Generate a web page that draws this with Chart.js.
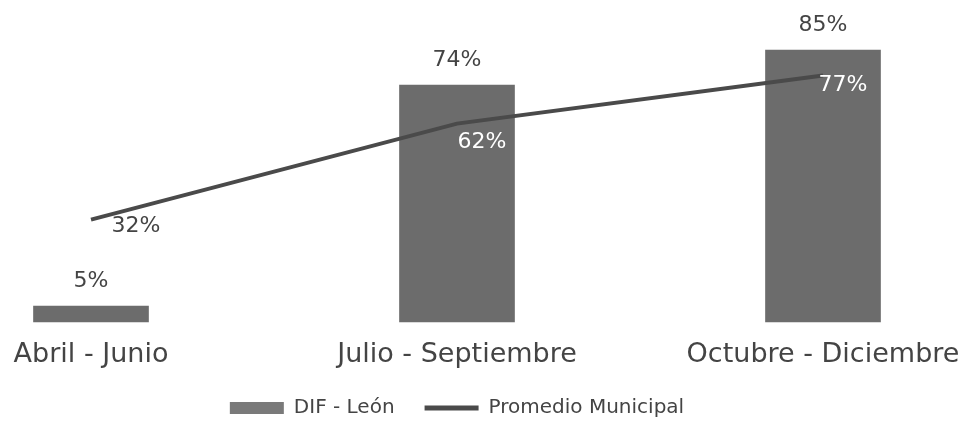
<!DOCTYPE html>
<html>
<head>
<meta charset="utf-8">
<script src="https://cdn.jsdelivr.net/npm/chart.js@4"></script>
<style>
html,body{margin:0;padding:0;background:#fff;}
#wrap{width:966px;height:426px;position:relative;}
</style>
</head>
<body>
<div id="wrap"><canvas id="c" width="966" height="426"></canvas></div>
<script>
const categories = ["Abril - Junio", "Julio - Septiembre", "Octubre - Diciembre"];
const difLeon = [5, 74, 85];
const promedioMunicipal = [32, 62, 77];
const seriesNames = ["DIF - León", "Promedio Municipal"];

const FONT = "'DejaVu Sans', sans-serif";
const TEXT = "#444444";

const labelPlugin = {
  id: 'valueLabels',
  afterDatasetsDraw(chart) {
    const ctx = chart.ctx;
    ctx.save();
    ctx.font = "22px " + FONT;
    ctx.textBaseline = 'middle';
    ctx.textAlign = 'center';
    const barMeta = chart.getDatasetMeta(0);
    barMeta.data.forEach((el, i) => {
      ctx.fillStyle = TEXT;
      ctx.fillText(difLeon[i] + '%', el.x, el.y - 25);
    });
    const lineMeta = chart.getDatasetMeta(1);
    const colors = [TEXT, '#ffffff', '#ffffff'];
    const dx = [45, 25, 20];
    const dy = [7, 19, 10];
    lineMeta.data.forEach((el, i) => {
      ctx.fillStyle = colors[i];
      ctx.fillText(promedioMunicipal[i] + '%', el.x + dx[i], el.y + dy[i]);
    });
    ctx.restore();
  }
};

new Chart(document.getElementById('c'), {
  type: 'bar',
  data: {
    labels: categories,
    datasets: [
      {
        type: 'bar',
        label: seriesNames[0],
        data: difLeon,
        backgroundColor: '#6c6c6c',
        barThickness: 115,
        clip: false,
        order: 2
      },
      {
        type: 'line',
        label: seriesNames[1],
        data: promedioMunicipal,
        borderColor: '#4a4a4a',
        backgroundColor: '#4a4a4a',
        borderWidth: 4,
        pointRadius: 0,
        tension: 0,
        clip: false,
        order: 1
      }
    ]
  },
  options: {
    responsive: false,
    animation: false,
    layout: { padding: { left: 91, right: 143, top: 2, bottom: -2 } },
    scales: {
      x: {
        offset: false,
        grid: { display: false, drawTicks: false },
        border: { display: false },
        ticks: { color: TEXT, font: { family: FONT, size: 27 }, padding: 17, maxRotation: 0, autoSkip: false },
        afterFit(scale) { scale.height = 46; scale.paddingLeft = 0; scale.paddingRight = 0; }
      },
      y: {
        display: false,
        min: 0,
        max: 100
      }
    },
    plugins: {
      tooltip: { enabled: false },
      legend: {
        position: 'bottom',
        labels: {
          color: TEXT,
          font: { family: FONT, size: 20 },
          usePointStyle: true,
          pointStyleWidth: 54,
          boxHeight: 12,
          padding: 30,
          sort: (a, b) => a.datasetIndex - b.datasetIndex,
          generateLabels(chart) {
            const items = Chart.defaults.plugins.legend.labels.generateLabels(chart);
            items.forEach((it) => {
              if (it.datasetIndex === 0) {
                it.pointStyle = 'rect';
                it.lineWidth = 0;
                it.fillStyle = '#7a7a7a';
                it.strokeStyle = '#7a7a7a';
              } else {
                it.pointStyle = 'line';
                it.lineWidth = 5;
                it.strokeStyle = '#4a4a4a';
              }
            });
            return items;
          }
        }
      }
    }
  },
  plugins: [labelPlugin]
});
</script>
</body>
</html>
